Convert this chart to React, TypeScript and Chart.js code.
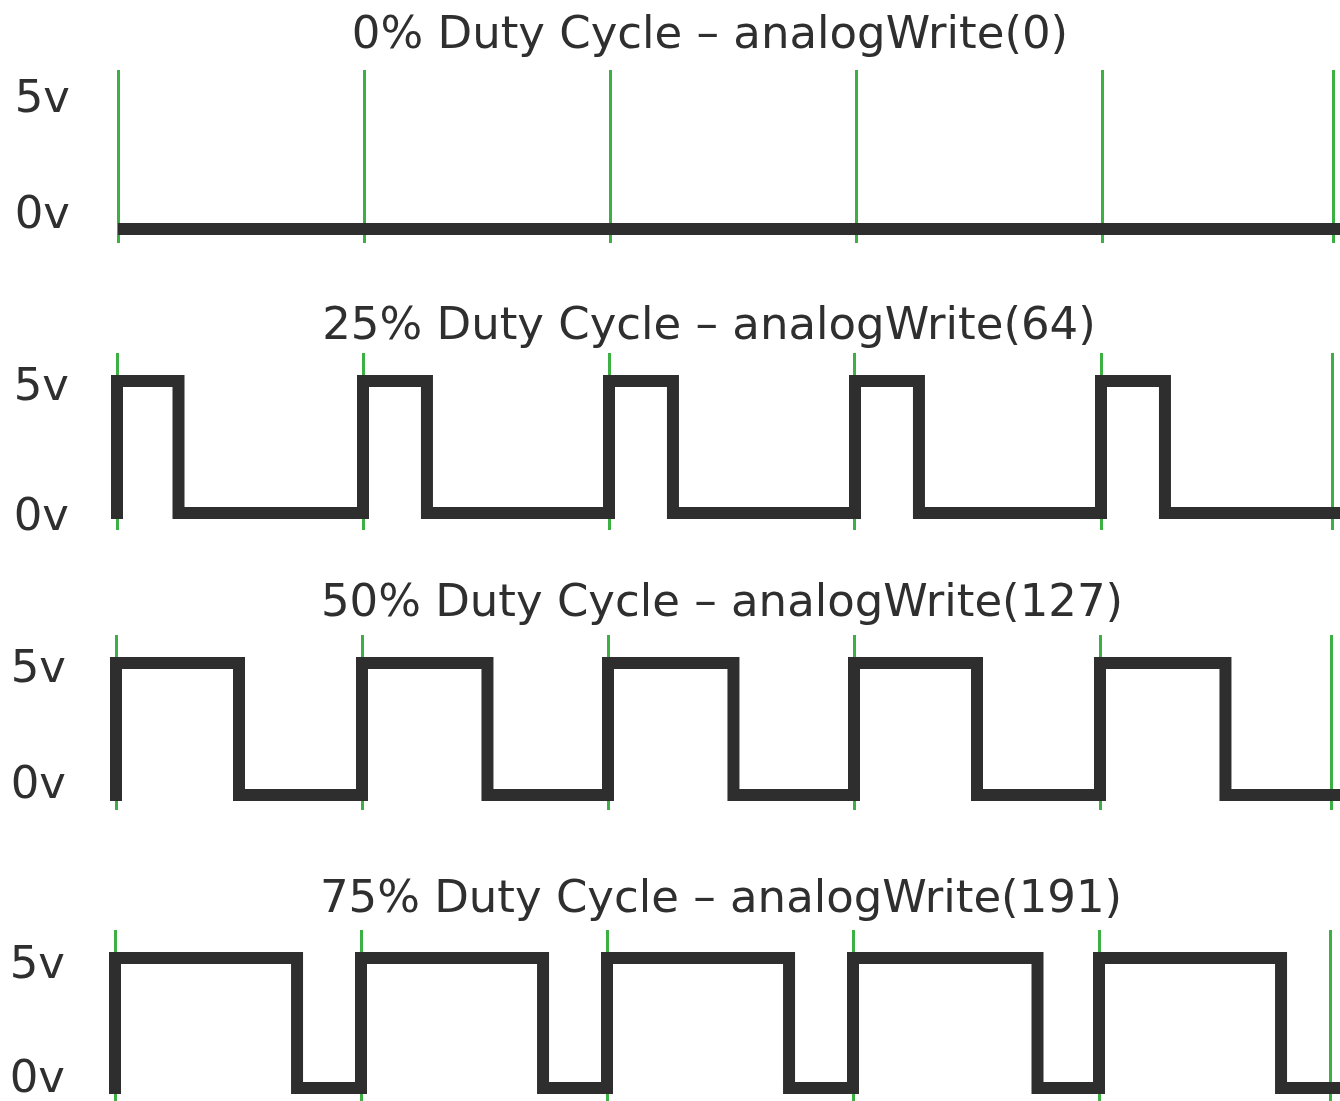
import React, { useEffect, useRef } from 'react';
import { Chart, registerables } from 'chart.js';

Chart.register(...registerables);

// ---------- data ----------
const panelTitles = [
  '0% Duty Cycle – analogWrite(0)',
  '25% Duty Cycle – analogWrite(64)',
  '50% Duty Cycle – analogWrite(127)',
  '75% Duty Cycle – analogWrite(191)',
];
const yTickLabels = ['0v', '5v'];
// period markers (green lines), in PWM periods
const periodMarks = [0, 1, 2, 3, 4, 4.94];

// edge times (periods) and voltage after each edge
const wave0Times = [0, 4.98];
const wave0Volts = [0, 0];
const wave25Times = [0, 0, 0.25, 1, 1.26, 2, 2.26, 3, 3.26, 4, 4.26, 4.98];
const wave25Volts = [0, 5, 0, 5, 0, 5, 0, 5, 0, 5, 0, 0];
const wave50Times = [0, 0, 0.5, 1, 1.51, 2, 2.51, 3, 3.5, 4, 4.51, 4.98];
const wave50Volts = [0, 5, 0, 5, 0, 5, 0, 5, 0, 5, 0, 0];
const wave75Times = [0, 0, 0.74, 1, 1.74, 2, 2.74, 3, 3.75, 4, 4.74, 4.98];
const wave75Volts = [0, 5, 0, 5, 0, 5, 0, 5, 0, 5, 0, 0];

const waveTimes = [wave0Times, wave25Times, wave50Times, wave75Times];
const waveVolts = [wave0Volts, wave25Volts, wave50Volts, wave75Volts];

// ---------- layout / style (pixels) ----------
const PAGE_W = 1340;
const PAGE_H = 1101;
const PERIOD_PX = 246;
const EXTRA_BOTTOM = 24;
const FONT = '"DejaVu Sans", "Noto Sans", sans-serif';
const FONT_SIZE = 45;
const TEXT_COLOR = '#2f2f2f';
const WAVE_COLOR = '#2e2e2e';
const GRID_COLOR = '#3cb043';

const layouts = [
  { titleMid: 36, titleCenter: 710, areaTop: 70, areaBottom: 243, left: 118, zeroY: 229, fiveY: 97, label0Y: 216, label5Y: 100, labelRight: 70, clipLeft: 0 },
  { titleMid: 327, titleCenter: 709, areaTop: 353, areaBottom: 530, left: 117, zeroY: 513, fiveY: 381, label0Y: 518, label5Y: 388, labelRight: 69, clipLeft: 20 },
  { titleMid: 604, titleCenter: 722, areaTop: 635, areaBottom: 810, left: 116, zeroY: 795, fiveY: 663, label0Y: 786, label5Y: 670, labelRight: 66, clipLeft: 20 },
  { titleMid: 900, titleCenter: 721, areaTop: 930, areaBottom: 1101, left: 115, zeroY: 1088, fiveY: 958, label0Y: 1080, label5Y: 966, labelRight: 65, clipLeft: 20 },
];

function Panel({ index }: { index: number }) {
  const ref = useRef<HTMLCanvasElement | null>(null);
  const L = layouts[index];
  const canvasTop = L.titleMid - 30;
  const height = L.areaBottom - canvasTop + EXTRA_BOTTOM;
  // canvas extends past the page's right edge so the title centre lands where it should
  const canvasW = 2 * L.titleCenter;

  useEffect(() => {
    if (!ref.current) return;
    const ppu = (L.zeroY - L.fiveY) / 5;
    const yMin = -(L.areaBottom - L.zeroY) / ppu;
    const yMax = (L.zeroY - L.areaTop) / ppu;
    const xMax = (canvasW - L.left) / PERIOD_PX;
    const times = waveTimes[index];
    const volts = waveVolts[index];

    const chart = new Chart(ref.current, {
      type: 'line',
      data: {
        datasets: [
          {
            data: times.map((t, i) => ({ x: t, y: volts[i] })),
            borderColor: WAVE_COLOR,
            borderWidth: 12,
            borderJoinStyle: 'miter',
            borderCapStyle: 'square',
            stepped: 'before',
            pointRadius: 0,
            fill: false,
            clip: { left: L.clipLeft, top: 20, right: 20, bottom: 20 },
          } as any,
        ],
      },
      options: {
        animation: false,
        responsive: false,
        maintainAspectRatio: false,
        events: [],
        layout: { padding: { left: 0, right: 0, top: 0, bottom: EXTRA_BOTTOM } },
        plugins: {
          legend: { display: false },
          tooltip: { enabled: false },
          title: {
            display: true,
            text: panelTitles[index],
            color: TEXT_COLOR,
            font: { family: FONT, size: FONT_SIZE, weight: 'normal', lineHeight: 1 },
            padding: { top: 7.5, bottom: L.areaTop - L.titleMid - 22.5 },
          },
        },
        scales: {
          x: {
            type: 'linear',
            min: 0,
            max: xMax,
            ticks: { display: false },
            grid: { display: true, color: GRID_COLOR, lineWidth: 3, drawTicks: false },
            border: { display: false },
            afterBuildTicks: (s: any) => {
              s.ticks = periodMarks.map((v) => ({ value: v }));
            },
            afterFit: (s: any) => {
              s.height = 0;
              s.paddingLeft = 0;
              s.paddingRight = 0;
              s.paddingTop = 0;
              s.paddingBottom = 0;
            },
          },
          y: {
            type: 'linear',
            min: yMin,
            max: yMax,
            grid: { display: false, drawTicks: false },
            border: { display: false },
            ticks: {
              color: TEXT_COLOR,
              font: { family: FONT, size: FONT_SIZE },
              padding: L.left - L.labelRight,
              autoSkip: false,
              callback: (_v: any, i: number) => yTickLabels[i],
            },
            afterBuildTicks: (s: any) => {
              s.ticks = [
                { value: (L.zeroY - L.label0Y) / ppu },
                { value: (L.zeroY - L.label5Y) / ppu },
              ];
            },
            afterFit: (s: any) => {
              s.width = L.left;
              s.paddingTop = 0;
              s.paddingBottom = 0;
              s.paddingLeft = 0;
              s.paddingRight = 0;
            },
          },
        },
      },
    });
    return () => chart.destroy();
  }, [index]);

  return (
    <canvas
      ref={ref}
      width={canvasW}
      height={height}
      style={{ position: 'absolute', left: 0, top: canvasTop, width: canvasW, height }}
    />
  );
}

export default function App() {
  return (
    <div
      style={{
        position: 'absolute',
        left: 0,
        top: 0,
        width: PAGE_W,
        height: PAGE_H,
        background: '#ffffff',
        overflow: 'hidden',
      }}
    >
      {layouts.map((_, i) => (
        <Panel key={i} index={i} />
      ))}
    </div>
  );
}
